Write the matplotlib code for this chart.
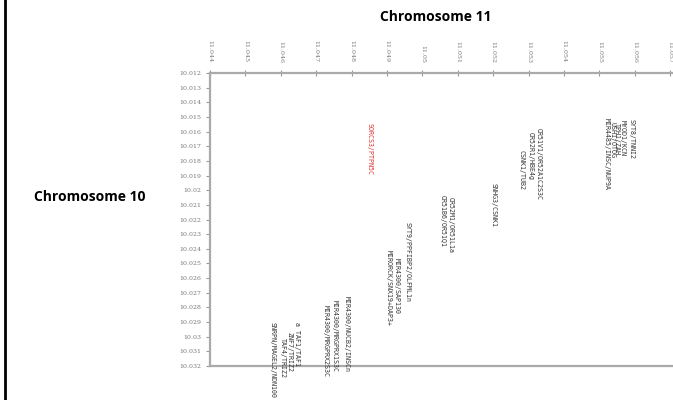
import numpy as np
import matplotlib
matplotlib.use("Agg")
import matplotlib.pyplot as plt
from matplotlib.lines import Line2D

# chromosome 11 positions (top axis), chromosome 10 positions (left axis)
x_ticks = [11.044, 11.045, 11.046, 11.047, 11.048, 11.049, 11.050,
           11.051, 11.052, 11.053, 11.054, 11.055, 11.056, 11.057]
y_ticks = [10.012, 10.013, 10.014, 10.015, 10.016, 10.017, 10.018,
           10.019, 10.020, 10.021, 10.022, 10.023, 10.024, 10.025,
           10.026, 10.027, 10.028, 10.029, 10.030, 10.031, 10.032]

# gene pair labels: chr11 position, chr10 position (top of label), text
gene_x = [11.04578, 11.04606, 11.04626, 11.04646,
          11.04728, 11.04753, 11.04787,
          11.04852,
          11.04906, 11.04928, 11.04959,
          11.05058, 11.05081,
          11.05202,
          11.05281, 11.05307, 11.05329,
          11.05521, 11.05536, 11.05550, 11.05567, 11.05592]
gene_y = [10.02900, 10.03010, 10.02970, 10.02900,
          10.02784, 10.02750, 10.02722,
          10.01541,
          10.02408, 10.02463, 10.02217,
          10.02033, 10.02046,
          10.01951,
          10.01726, 10.01603, 10.01575,
          10.01507, 10.01534, 10.01541, 10.01521, 10.01514]
gene_text = ["SNRPN/MAGEL2/NDN100", "TAF4/TRIZ2", "ZNF7/TRIZ2", "a TAF1/TAF1",
             "MIR4300/MRGPRX2S3C", "MIR4300/MRGPRX1S3C", "MIR4300/NUCB2/INSCn",
             "SORCS3/PTPN5C",
             "MIRORCK/SNX19+DAP3+", "MIR4300/SAP130", "SYT9/PPFIBP2/OLFML1n",
             "OR51B6/OR51Q1", "OR52M1/OR51L1a",
             "SNHG3/CSNK1",
             "CSNK1/TUB2", "OR52R1/HBE4g", "OR51V1/OR52A1C2S3C",
             "MIR4485/INSC/NUP9A", "USH1/OTOG", "TPH1/ZAH", "MYOD1/KCN", "SYT8/TNNI2"]
gene_color = ["#333333"] * 7 + ["#e03030"] + ["#333333"] * 14


def fmt(v):
    return "{:g}".format(round(v, 3))


fig = plt.figure(figsize=(6.73, 4.0), dpi=100)
ax = fig.add_axes([0.312, 0.085, 0.688, 0.7325])

ax.set_xlim(11.044, 11.05708)
ax.set_ylim(10.032, 10.012)

ax.xaxis.tick_top()
ax.set_xticks(x_ticks)
ax.set_xticklabels([fmt(v) for v in x_ticks], rotation=270, fontsize=4.5,
                   color="#777777", family="DejaVu Serif")
ax.set_yticks(y_ticks)
ax.set_yticklabels([fmt(v) for v in y_ticks], fontsize=4.5,
                   color="#777777", family="DejaVu Serif")
ax.tick_params(axis="x", direction="inout", length=5, width=0.8,
               color="#999999", pad=5)
ax.tick_params(axis="y", direction="out", length=3, width=0.8,
               color="#999999", pad=3)

for side in ["left", "top", "bottom"]:
    ax.spines[side].set_color("#aaaaaa")
    ax.spines[side].set_linewidth(1.6)
ax.spines["right"].set_visible(False)

for gx, gy, t, c in zip(gene_x, gene_y, gene_text, gene_color):
    ax.text(gx, gy, t, rotation=270, ha="center", va="top", fontsize=4.8,
            color=c, family="DejaVu Sans Mono", clip_on=False)

fig.text(0.647, 0.957, "Chromosome 11", ha="center", va="center",
         fontsize=10, fontweight="bold", family="Open Sans")
fig.text(0.134, 0.507, "Chromosome 10", ha="center", va="center",
         fontsize=10, fontweight="bold", family="Open Sans")

fig.add_artist(Line2D([0.008, 0.008], [0.0, 1.0], transform=fig.transFigure,
                      color="black", linewidth=2))

fig.savefig("out.png", dpi=100)
